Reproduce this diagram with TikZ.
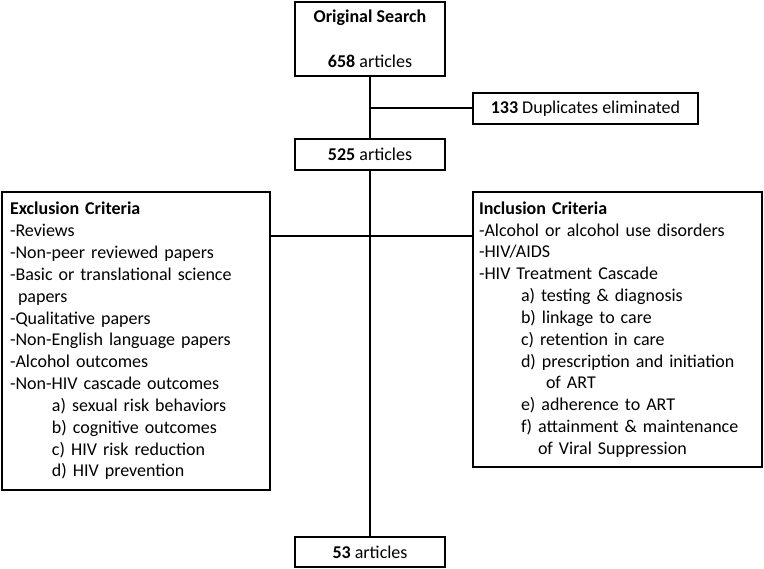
\documentclass[tikz,border=0pt]{standalone}
\usepackage{fontspec}
\setmainfont{Carlito}
\tikzset{
    stagebox/.style={draw, line width=2pt, fill=white, align=center, inner sep=2pt},
    listbox/.style={draw, line width=2pt, fill=white, align=left, inner ysep=4pt},
    link/.style={line width=2pt}
}
\newcommand{\sub}{\hspace*{42pt}}
\begin{document}
\begin{tikzpicture}[x=1pt,y=-1pt,font=\fontsize{18}{21.85}\selectfont]
            \useasboundingbox (0,0) rectangle (764,569);
            \node[stagebox, minimum width=150pt, minimum height=74pt] (orig) at (370,39) {\textbf{Original Search}\\[23pt]\textbf{658} articles};
            \node[stagebox, minimum width=225pt, minimum height=31pt] (dup) at (585.5,108.5) {\textbf{133} Duplicates eliminated};
            \node[stagebox, minimum width=150pt, minimum height=31pt] (n525) at (370,154.5) {\textbf{525} articles};
            \node[stagebox, minimum width=150pt, minimum height=30pt] (final) at (370,552) {\textbf{53} articles};
            \node[listbox, inner xsep=8pt, text width=252pt, minimum height=298pt] (excl) at (136,341) {\textbf{Exclusion Criteria}\\
                -Reviews\\
                -Non-peer reviewed papers\\
                -Basic or translational science\\
                \hspace*{8pt}papers\\
                -Qualitative papers\\
                -Non-English language papers\\
                -Alcohol outcomes\\
                -Non-HIV cascade outcomes\\
                \sub a) sexual risk behaviors\\
                \sub b) cognitive outcomes\\
                \sub c) HIV risk reduction\\
                \sub d) HIV prevention};
            \node[listbox, inner xsep=6pt, text width=277pt, minimum height=275pt] (incl) at (617.5,329.5) {\textbf{Inclusion Criteria}\\
                -Alcohol or alcohol use disorders\\
                -HIV/AIDS\\
                -HIV Treatment Cascade\\
                \sub a) testing \& diagnosis\\
                \sub b) linkage to care\\
                \sub c) retention in care\\
                \sub d) prescription and initiation\\
                \sub\hspace*{25pt}of ART\\
                \sub e) adherence to ART\\
                \sub f) attainment \& maintenance\\
                \sub\hspace*{17pt}of Viral Suppression};
            \coordinate (split) at (370,236);
            \draw[link] (orig.south) -- (n525.north);
            \draw[link] (n525.south) -- (final.north);
            \draw[link] (orig.south |- dup.west) -- (dup.west);
            \draw[link] (excl.east |- split) -- (incl.west |- split);
        \end{tikzpicture}
\end{document}
